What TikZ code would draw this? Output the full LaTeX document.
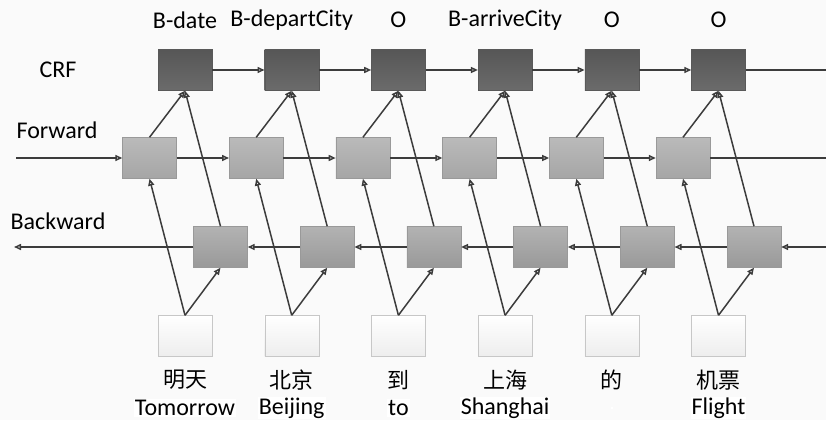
\documentclass[tikz,border=0pt]{standalone}
\usepackage{fontspec}
\setmainfont{Carlito}
\newfontfamily\cjk{Noto Sans CJK SC}
\usetikzlibrary{arrows.meta}

\definecolor{linegray}{HTML}{3C3C3C}

\tikzset{
  cell/.style={minimum width=54pt, minimum height=41pt, inner sep=0pt, draw=#1},
  crfbox/.style={cell=gray!70!black, top color=black!66, bottom color=black!58},
  fwdbox/.style={cell=gray!80, top color=black!27, bottom color=black!35},
  bwdbox/.style={cell=gray!80, top color=black!30, bottom color=black!40},
  wordbox/.style={cell=black!22, top color=white, bottom color=black!7},
  tag/.style={font=\fontsize{24}{26}\selectfont},
  zhtag/.style={font=\fontsize{22}{24}\cjk},
  link/.style={draw=linegray, line width=1.5pt, -{Triangle[open, length=7pt, width=6pt]}}
}

\begin{document}
\begin{tikzpicture}[x=1pt, y=-1pt]
  \fill[black!2] (0,0) rectangle (826,420);
  \useasboundingbox (0,0) rectangle (826,420);

  % row names
  \path node (crf) at (58,70)  [tag] {CRF}
        node (fwd) at (57,130) [tag] {Forward}
        node (bwd) at (58,221) [tag] {Backward};

  % one column per word
  \foreach \i/\lab/\zh/\en in {0/B-date/明天/Tomorrow, 1/B-departCity/北京/Beijing,
      2/O/到/to, 3/B-arriveCity/上海/Shanghai, 4/O/的/{}, 5/O/机票/Flight} {
    \path node (c\i) at (185+106.7*\i,70)  [crfbox] {}
          node (f\i) at (149.5+106.7*\i,158) [fwdbox] {}
          node (b\i) at (220.5+106.7*\i,247) [bwdbox] {}
          node (w\i) at (185+106.7*\i,336) [wordbox] {}
          node (t\i) at (185+106.7*\i,20)  [tag] {\lab}
          node (z\i) at (185+106.7*\i,380) [zhtag] {\zh}
          node (e\i) at (185+106.7*\i,408) [tag, fill=white, inner sep=1pt] {\en};
    \draw[link] (w\i.north) -- (f\i.south);
    \draw[link] (w\i.north) -- (b\i.south);
    \draw[link] (f\i.north) -- (c\i.south);
    \draw[link] (b\i.north) -- (c\i.south);
  }

  % chains
  \foreach \i/\j in {0/1, 1/2, 2/3, 3/4, 4/5} {
    \draw[link] (c\i.east) -- (c\j.west);
    \draw[link] (f\i.east) -- (f\j.west);
    \draw[link] (b\j.west) -- (b\i.east);
  }

  % open ends
  \coordinate (fin)  at (16,158);
  \coordinate (fout) at (826,158);
  \coordinate (cout) at (826,70);
  \coordinate (bin)  at (826,247);
  \coordinate (bout) at (14,247);
  \draw[link] (fin) -- (f0.west);
  \draw[link] (bin) -- (b5.east);
  \draw[link] (b0.west) -- (bout);
  \draw[link, -] (f5.east) -- (fout);
  \draw[link, -] (c5.east) -- (cout);
\end{tikzpicture}
\end{document}
